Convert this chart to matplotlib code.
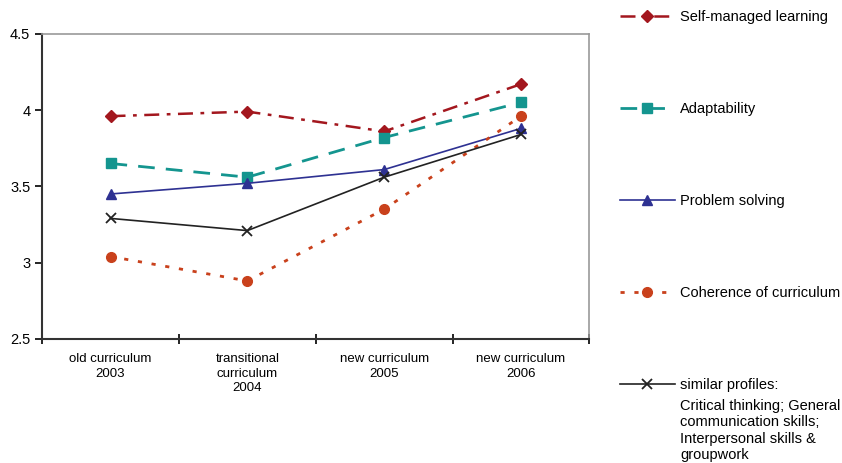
import matplotlib.pyplot as plt
import numpy as np

plt.rcParams['font.family'] = ['Liberation Sans', 'DejaVu Sans']

categories = ["old curriculum\n2003", "transitional\ncurriculum\n2004",
              "new curriculum\n2005", "new curriculum\n2006"]
self_managed = [3.96, 3.99, 3.86, 4.17]
adaptability = [3.65, 3.56, 3.82, 4.05]
problem_solving = [3.45, 3.52, 3.61, 3.88]
coherence = [3.04, 2.88, 3.35, 3.96]
similar = [3.29, 3.21, 3.56, 3.84]

fig = plt.figure(figsize=(8.42, 4.63), dpi=100)
ax = fig.add_axes([0.050, 0.268, 0.650, 0.659])

x = np.arange(len(categories))
l1, = ax.plot(x, self_managed, color="#A3171E", lw=1.8, dashes=(6, 3, 1.5, 3),
              marker="D", ms=6, label="Self-managed learning")
l2, = ax.plot(x, adaptability, color="#14958F", lw=2, dashes=(6, 4),
              marker="s", ms=7, label="Adaptability")
l3, = ax.plot(x, problem_solving, color="#2E3192", lw=1.2,
              marker="^", ms=7, label="Problem solving")
l4, = ax.plot(x, coherence, color="#C9411C", lw=2, dashes=(1.5, 3.5),
              marker="o", ms=7, label="Coherence of curriculum")
l5, = ax.plot(x, similar, color="#222222", lw=1.2,
              marker="x", ms=7, mew=1.3, label="similar profiles:")

ax.set_xlim(-0.5, 3.5)
ax.set_ylim(2.5, 4.5)
ax.set_yticks([2.5, 3, 3.5, 4, 4.5])
ax.set_yticklabels(["2.5", "3", "3.5", "4", "4.5"])
ax.set_xticks(x)
ax.set_xticklabels(categories, fontsize=9.5, linespacing=1.3)
ax.set_xticks(np.arange(-0.5, 4, 1), minor=True)
ax.tick_params(axis="x", which="major", length=0, pad=10)
ax.tick_params(axis="x", which="minor", length=7, direction="inout", width=1.2)
ax.tick_params(axis="y", length=5, width=1.2, labelsize=10.5)
for s in ["left", "bottom"]:
    ax.spines[s].set_linewidth(1.5)
    ax.spines[s].set_color("#333333")
for s in ["top", "right"]:
    ax.spines[s].set_color("#999999")
    ax.spines[s].set_linewidth(1.2)

leg = fig.legend(handles=[l1, l2, l3, l4, l5], loc="upper left",
                 bbox_to_anchor=(0.736, 0.978), frameon=False, fontsize=10.5,
                 handlelength=3.8, handletextpad=0.3, labelspacing=5.35,
                 borderaxespad=0, borderpad=0)
fig.text(0.808, 0.138, "Critical thinking; General\ncommunication skills;\n"
         "Interpersonal skills &\ngroupwork", fontsize=10.5, va="top",
         linespacing=1.2)

fig.savefig("out.png", dpi=100)
